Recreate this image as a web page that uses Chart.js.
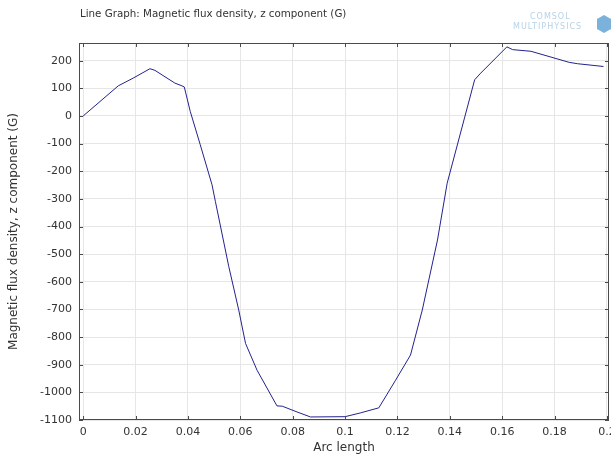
<!DOCTYPE html>
<html>
<head>
<meta charset="utf-8">
<title>Magnetic flux density</title>
<script src="https://cdn.jsdelivr.net/npm/chart.js@4.4.0/dist/chart.umd.min.js"></script>
<style>
  html, body { margin: 0; padding: 0; background: #fff; }
  #wrap { width: 611px; height: 457px; position: relative; }
</style>
</head>
<body>
<div id="wrap"><canvas id="fluxChart" width="611" height="457"></canvas></div>
<script>
// ==================== データ ====================

// Arc length (x)
const arcLength = [
  0, 0.0134, 0.0191, 0.0255, 0.0274, 0.035, 0.0377, 0.0386, 0.0409, 0.0447,
  0.0492, 0.0505, 0.0556, 0.0594, 0.062, 0.0664, 0.074, 0.076, 0.0817, 0.0868,
  0.1, 0.106, 0.1129, 0.1193, 0.125, 0.1295, 0.1353, 0.139, 0.1495, 0.1518,
  0.1618, 0.164, 0.171, 0.1856, 0.1888, 0.1987
];

// Magnetic flux density, z component (G)
const fluxZ = [
  0, 109, 137, 171, 165, 119, 109, 105, 16, -104,
  -249, -310, -545, -702, -823, -920, -1049, -1050, -1071, -1089,
  -1088, -1074, -1056, -956, -865, -702, -449, -243, 131, 155,
  250, 240, 234, 194, 189, 179
];

const xTickValues = [0, 0.02, 0.04, 0.06, 0.08, 0.1, 0.12, 0.14, 0.16, 0.18, 0.2];
const yTickValues = [200, 100, 0, -100, -200, -300, -400, -500, -600, -700, -800, -900, -1000, -1100];

const titleText = 'Line Graph: Magnetic flux density, z component (G)';
const xTitle = 'Arc length';
const yTitle = 'Magnetic flux density, z component (G)';

// ==================== 設定 ====================

const colors = {
  line: '#22228e',
  grid: '#e6e6e6',
  frame: '#4a4a4a',
  text: '#333333',
  logo: '#b8d2e6',
  logoIcon: '#7ab2dc'
};

const fontFamily = '"DejaVu Sans", sans-serif';

// 枠線・内向き目盛り・タイトル・ロゴ
const framePlugin = {
  id: 'comsolFrame',
  afterDraw(chart) {
    const { ctx, chartArea: a, scales } = chart;
    ctx.save();

    // 枠
    ctx.strokeStyle = colors.frame;
    ctx.lineWidth = 1;
    ctx.strokeRect(a.left + 0.5, a.top + 0.5, a.right - a.left - 1, a.bottom - a.top - 1);

    // 内向き目盛り
    const len = 4;
    ctx.beginPath();
    xTickValues.forEach(v => {
      const x = Math.round(scales.x.getPixelForValue(v)) + 0.5;
      ctx.moveTo(x, a.top); ctx.lineTo(x, a.top + len);
      ctx.moveTo(x, a.bottom); ctx.lineTo(x, a.bottom - len);
    });
    yTickValues.forEach(v => {
      const y = Math.round(scales.y.getPixelForValue(v)) + 0.5;
      ctx.moveTo(a.left, y); ctx.lineTo(a.left + len, y);
      ctx.moveTo(a.right, y); ctx.lineTo(a.right - len, y);
    });
    ctx.stroke();

    // タイトル
    ctx.fillStyle = colors.text;
    ctx.font = '10.3px ' + fontFamily;
    ctx.textBaseline = 'middle';
    ctx.textAlign = 'left';
    ctx.fillText(titleText, 80, 14);

    // ロゴ
    ctx.fillStyle = colors.logo;
    ctx.textAlign = 'left';
    ctx.font = '8px ' + fontFamily;
    ctx.letterSpacing = '1px';
    ctx.fillText('COMSOL', 530, 17);
    ctx.fillText('MULTIPHYSICS', 513, 27);
    ctx.letterSpacing = '0px';
    ctx.fillStyle = colors.logoIcon;
    ctx.beginPath();
    ctx.moveTo(597, 19); ctx.lineTo(604, 15); ctx.lineTo(611, 19);
    ctx.lineTo(611, 29); ctx.lineTo(604, 33); ctx.lineTo(597, 29);
    ctx.closePath();
    ctx.fill();

    ctx.restore();
  }
};

// ==================== グラフ作成 ====================

function createFluxChart() {
  const ctx = document.getElementById('fluxChart').getContext('2d');
  return new Chart(ctx, {
    type: 'scatter',
    data: {
      datasets: [{
        label: 'Bz',
        data: arcLength.map((x, i) => ({ x: x, y: fluxZ[i] })),
        showLine: true,
        borderColor: colors.line,
        borderWidth: 1,
        pointRadius: 0,
        tension: 0,
        fill: false
      }]
    },
    options: {
      responsive: false,
      animation: false,
      layout: { padding: { top: 43, right: 2, left: 0, bottom: 0 } },
      plugins: {
        legend: { display: false },
        tooltip: { enabled: false },
        title: { display: false }
      },
      scales: {
        x: {
          type: 'linear',
          min: -0.0016,
          max: 0.2008,
          border: { display: false },
          grid: { color: colors.grid, drawTicks: false },
          afterBuildTicks: scale => { scale.ticks = xTickValues.map(v => ({ value: v })); },
          afterFit: scale => {
            scale.height = 37;
            scale.paddingLeft = 0;
            scale.paddingRight = 0;
          },
          ticks: {
            padding: 6,
            color: colors.text,
            font: { family: fontFamily, size: 11 },
            maxRotation: 0,
            autoSkip: false,
            callback: v => String(v)
          },
          title: {
            display: true,
            text: xTitle,
            color: colors.text,
            font: { family: fontFamily, size: 12 },
            padding: { top: 0, bottom: 2 }
          }
        },
        y: {
          type: 'linear',
          min: -1100,
          max: 264,
          border: { display: false },
          grid: { color: colors.grid, drawTicks: false },
          afterBuildTicks: scale => { scale.ticks = yTickValues.map(v => ({ value: v })); },
          afterFit: scale => {
            scale.width = 79;
            scale.paddingTop = 0;
            scale.paddingBottom = 0;
          },
          ticks: {
            padding: 7,
            color: colors.text,
            font: { family: fontFamily, size: 11 },
            autoSkip: false,
            callback: v => String(v)
          },
          title: {
            display: true,
            text: yTitle,
            color: colors.text,
            font: { family: fontFamily, size: 12 },
            padding: { top: 7, bottom: 0 }
          }
        }
      }
    },
    plugins: [framePlugin]
  });
}

createFluxChart();
</script>
</body>
</html>
